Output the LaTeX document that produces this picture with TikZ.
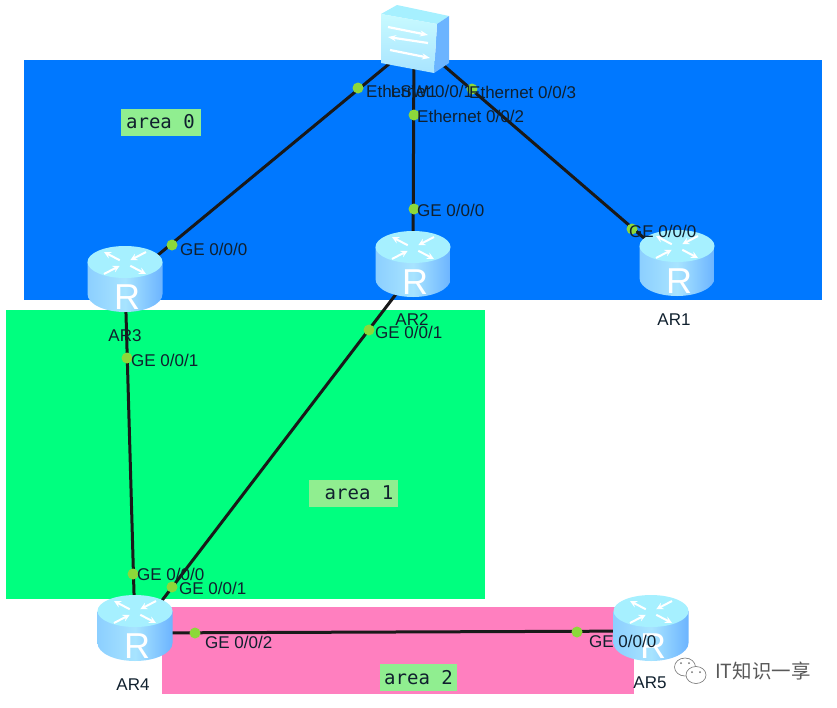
\documentclass[tikz,border=0pt]{standalone}
\usepackage{xcolor}
\usepackage{fontspec}
\setmainfont{Liberation Sans}
\setmonofont{DejaVu Sans Mono}
\newfontfamily\cjkfont{Noto Sans CJK SC}
\usetikzlibrary{arrows.meta, positioning, backgrounds}
\definecolor{areablue}{HTML}{0078FF}
\definecolor{areagreen}{HTML}{00FF7F}
\definecolor{areapink}{HTML}{FF7FBF}
\definecolor{tagfill}{HTML}{90EE90}
\definecolor{portgreen}{HTML}{8CD83A}
\definecolor{icontop}{HTML}{A6F0FF}
\definecolor{iconlight}{HTML}{A8E4FF}
\definecolor{iconmid}{HTML}{8CCFFF}
\definecolor{icondark}{HTML}{6CB4FF}
\definecolor{iconface}{HTML}{C8FAFF}
\definecolor{textdark}{HTML}{10202E}

\begin{document}
\begin{tikzpicture}[
    x=1pt, y=-1pt,
    port/.style={circle, fill=portgreen, inner sep=0pt, minimum size=11pt},
    portlabel/.style={anchor=west, inner sep=0pt, text=textdark, font=\fontsize{17}{19}\selectfont},
    devlabel/.style={inner sep=0pt, text=textdark, font=\fontsize{17}{19}\selectfont},
    areatag/.style={fill=tagfill, inner sep=0pt, minimum width=80pt, minimum height=27pt,
                    text=textdark, font=\ttfamily\fontsize{19}{21}\selectfont},
    link/.style={black!90, line width=3pt},
    router/.pic={
        \shade[left color=iconmid, right color=icondark, middle color=iconlight]
            (-37.5,-17) -- (-37.5,15) arc[start angle=180, end angle=360, x radius=37.5pt, y radius=18pt]
            -- (37.5,-17) -- cycle;
        \fill[icontop] (0,-17) ellipse [x radius=37.5pt, y radius=16pt];
        % two arrows going out, two coming in
        \foreach \dx/\dy in {-21/-11, 21/11} {
            \draw[white, line width=2pt, -{Stealth[length=7pt, width=7pt]}] (\dx*0.25,-16+\dy*0.25) -- (\dx,-16+\dy);
        }
        \foreach \dx/\dy in {21/-11, -21/11} {
            \draw[white, line width=2pt, -{Stealth[length=7pt, width=7pt]}] (\dx,-16+\dy) -- (\dx*0.25,-16+\dy*0.25);
        }
        \node[text=white, inner sep=0pt, font=\fontsize{36}{36}\selectfont] at (2,18) {R};
        \node[minimum width=75pt, minimum height=66pt, inner sep=0pt] (-body) at (0,0) {};
    },
    switchbox/.pic={
        \fill[icontop] (-33,-26) -- (-17,-35) -- (35,-24) -- (23,-16) -- cycle;
        \fill[icondark] (23,-16) -- (35,-24) -- (35,23) -- (20,33) -- cycle;
        \shade[top color=iconface, bottom color=iconlight] (-33,-26) -- (23,-16) -- (20,33) -- (-33,23) -- cycle;
        \draw[white, line width=2.2pt, -{Stealth[length=8pt]}] (-26,-13) -- (14,-5);
        \draw[white, line width=2.2pt, -{Stealth[length=8pt]}] (14,3) -- (-26,-3);
        \draw[white, line width=2.2pt, -{Stealth[length=8pt]}] (-24,10) -- (16,18);
        \node[minimum width=68pt, minimum height=66pt, inner sep=0pt] (-body) at (0,0) {};
    },
]
\useasboundingbox (0,0) rectangle (837,707);

% devices
\pic (lsw) at (414,40)  {switchbox};
\pic (ar3) at (125,279) {router};
\pic (ar2) at (413,264) {router};
\pic (ar1) at (677,263) {router};
\pic (ar4) at (135,628) {router};
\pic (ar5) at (651,628) {router};

\begin{scope}[on background layer]
% areas
\fill[areablue]  (24,60)  rectangle (822,300);
\fill[areagreen] (6,310)  rectangle (485,599);
\fill[areapink]  (162,607) rectangle (634,694);

\node[areatag] (tag0) at (160.5,122) {area 0};
\node[areatag, minimum width=89pt] (tag1) at (353.5,493) {\hspace{11pt}area 1};
\node[areatag, minimum width=77pt] (tag2) at (418.5,677.5) {area 2};

% links
\draw[link] ([xshift=4pt]lsw-body.center) -- ([xshift=4pt]ar3-body.center);
\draw[link] (lsw-body.center) -- (ar2-body.center);
\draw[link] (lsw-body.center) -- ([xshift=-4pt]ar1-body.center);
\draw[link] (ar3-body.center) -- (ar4-body.center);
\draw[link] ([xshift=6pt]ar2-body.center) -- ([xshift=6pt]ar4-body.center);
\draw[link] ([yshift=-5pt]ar4-body.center) -- ([yshift=-3pt]ar5-body.center);
\end{scope}

% ports
\node[port] (p1)  at (358,88)  {};
\node[port] (p2)  at (414,115) {};
\node[port] (p3)  at (472,89)  {};
\node[port] (p4)  at (414,209) {};
\node[port] (p5)  at (172,245) {};
\node[port] (p6)  at (632,229) {};
\node[port] (p7)  at (127,358) {};
\node[port] (p8)  at (369,330) {};
\node[port] (p9)  at (133,574) {};
\node[port] (p10) at (172,587) {};
\node[port] (p11) at (195,633) {};
\node[port] (p12) at (577,632) {};

\node[portlabel] at (366,91)  {Ethernet 0/0/1};
\node[portlabel] at (417,116) {Ethernet 0/0/2};
\node[portlabel] at (469,92)  {Ethernet 0/0/3};
\node[portlabel] at (417,210) {GE 0/0/0};
\node[portlabel] at (180,249) {GE 0/0/0};
\node[portlabel] at (629,231) {GE 0/0/0};
\node[portlabel] at (131,360) {GE 0/0/1};
\node[portlabel] at (375,332) {GE 0/0/1};
\node[portlabel] at (137,574) {GE 0/0/0};
\node[portlabel] at (179,588) {GE 0/0/1};
\node[portlabel] at (205,642) {GE 0/0/2};
\node[portlabel] at (589,641) {GE 0/0/0};

% device names
\node[devlabel] (lswname) at (414,92)  {LSW1};
\node[devlabel] (ar3name) at (125,336) {AR3};
\node[devlabel] (ar2name) at (412,320) {AR2};
\node[devlabel] (ar1name) at (674,320) {AR1};
\node[devlabel] (ar4name) at (133,685) {AR4};
\node[devlabel] (ar5name) at (650,683) {AR5};

% watermark
\draw[black!55, line width=0.6pt, fill=white] (685,667) ellipse [x radius=10.5pt, y radius=9pt];
\draw[black!55, line width=0.6pt, fill=white] (696,675) ellipse [x radius=10pt, y radius=8.5pt];
\fill[black!55] (681,663) circle (1pt) (689,663) circle (1pt) (692,672) circle (1pt) (700,672) circle (1pt);
\node[inner sep=0pt, anchor=west, text=black!65, font=\cjkfont\fontsize{19.5}{21}\selectfont] (mark) at (715,671) {IT知识一享};
\end{tikzpicture}
\end{document}
